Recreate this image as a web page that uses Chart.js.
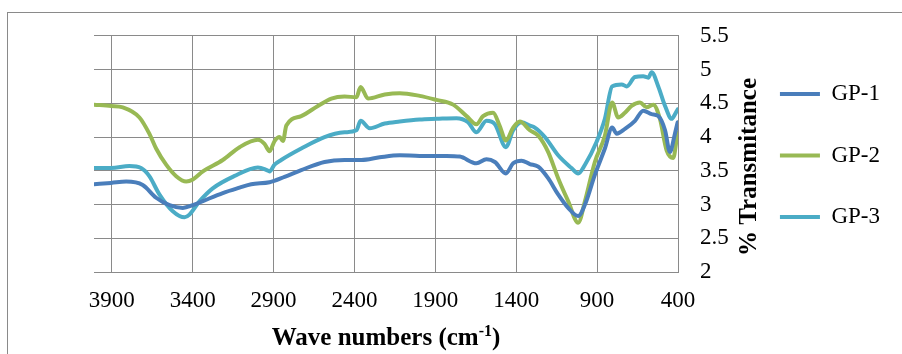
<!DOCTYPE html>
<html>
<head>
<meta charset="utf-8">
<script src="https://cdn.jsdelivr.net/npm/chart.js@4"></script>
<style>
  body { margin: 0; background: #fff; }
  canvas { display: block; }
</style>
</head>
<body>
<canvas id="ftir" width="902" height="354"></canvas>
<script>
// wave numbers (cm-1) and % transmitance
const waveTicks = [400, 900, 1400, 1900, 2400, 2900, 3400, 3900];

const gp1Wave = [4010, 3904, 3811, 3709, 3626, 3543, 3461, 3399, 3337, 3214, 3110, 3038, 2925, 2832, 2729, 2585, 2461, 2357, 2244, 2120, 1997, 1831, 1749, 1646, 1584, 1532, 1464, 1419, 1367, 1316, 1264, 1203, 1141, 1079, 1017, 975, 914, 852, 807, 779, 728, 666, 615, 563, 522, 480, 450, 419, 402];
const gp1Values = [3.30, 3.32, 3.34, 3.29, 3.10, 2.99, 2.95, 2.99, 3.05, 3.17, 3.25, 3.30, 3.33, 3.41, 3.51, 3.63, 3.66, 3.66, 3.70, 3.73, 3.72, 3.72, 3.71, 3.61, 3.67, 3.63, 3.46, 3.61, 3.65, 3.60, 3.56, 3.39, 3.15, 2.95, 2.83, 3.00, 3.44, 3.83, 4.14, 4.05, 4.12, 4.24, 4.39, 4.34, 4.31, 4.10, 3.78, 4.05, 4.22];

const gp2Wave = [4010, 3904, 3832, 3729, 3668, 3626, 3564, 3502, 3440, 3399, 3337, 3214, 3110, 2997, 2956, 2925, 2894, 2863, 2842, 2821, 2729, 2626, 2543, 2461, 2388, 2362, 2316, 2213, 2120, 1997, 1893, 1790, 1707, 1646, 1605, 1543, 1503, 1464, 1419, 1378, 1316, 1264, 1203, 1141, 1079, 1017, 975, 914, 852, 807, 770, 728, 687, 635, 594, 553, 512, 470, 429, 408, 400];
const gp2Values = [4.48, 4.46, 4.44, 4.29, 4.05, 3.83, 3.59, 3.42, 3.34, 3.37, 3.49, 3.66, 3.85, 3.96, 3.90, 3.79, 3.94, 4.00, 3.94, 4.17, 4.31, 4.46, 4.57, 4.60, 4.59, 4.74, 4.57, 4.63, 4.65, 4.61, 4.55, 4.48, 4.31, 4.19, 4.31, 4.36, 4.17, 3.95, 4.14, 4.23, 4.10, 4.02, 3.78, 3.39, 3.05, 2.73, 3.05, 3.63, 4.02, 4.51, 4.29, 4.36, 4.46, 4.51, 4.44, 4.48, 4.27, 3.80, 3.69, 3.97, 4.07];

const gp3Wave = [4010, 3904, 3791, 3719, 3668, 3606, 3523, 3450, 3420, 3357, 3276, 3144, 2997, 2942, 2925, 2894, 2853, 2729, 2585, 2461, 2388, 2362, 2306, 2213, 2120, 1997, 1893, 1770, 1698, 1646, 1584, 1532, 1464, 1419, 1367, 1316, 1285, 1223, 1141, 1058, 1017, 975, 903, 852, 807, 748, 717, 666, 615, 584, 563, 522, 480, 439, 418, 402];
const gp3Values = [3.54, 3.54, 3.57, 3.54, 3.42, 3.15, 2.90, 2.81, 2.85, 3.05, 3.24, 3.42, 3.55, 3.51, 3.49, 3.59, 3.66, 3.83, 4.00, 4.07, 4.10, 4.24, 4.13, 4.20, 4.23, 4.26, 4.27, 4.28, 4.22, 4.07, 4.24, 4.19, 3.85, 4.10, 4.22, 4.17, 4.14, 4.00, 3.73, 3.54, 3.46, 3.59, 3.93, 4.27, 4.75, 4.78, 4.75, 4.89, 4.90, 4.88, 4.96, 4.75, 4.46, 4.27, 4.34, 4.41];

const seriesNames = ['GP-1', 'GP-2', 'GP-3'];
const seriesColors = ['#4a7ebb', '#98b954', '#4bacc6'];

const serif = '"Liberation Serif", "Times New Roman", serif';
const gridColor = '#8a8a8a';

function toPoints(waves, values) {
	return waves.map((w, i) => ({ x: w, y: values[i] }));
}

// outer frame plus the two axis titles (superscript and bottom-up text)
const frameAndTitles = {
	id: 'frameAndTitles',
	beforeDraw(chart) {
		const ctx = chart.ctx;
		ctx.save();
		ctx.fillStyle = '#fff';
		ctx.fillRect(0, 0, chart.width, chart.height);
		ctx.strokeStyle = gridColor;
		ctx.lineWidth = 1;
		ctx.strokeRect(7.5, 12.5, chart.width + 20, chart.height + 20);
		ctx.restore();
	},
	afterDraw(chart) {
		const ctx = chart.ctx;
		const area = chart.chartArea;
		const big = 'bold 25px ' + serif;
		const small = 'bold 16px ' + serif;
		const parts = [['Wave numbers (cm', big, 0], ['-1', small, -9], [')', big, 0]];
		ctx.save();
		ctx.fillStyle = '#000';
		ctx.textBaseline = 'alphabetic';
		let total = 0;
		parts.forEach(p => { ctx.font = p[1]; total += ctx.measureText(p[0]).width; });
		let x = (area.left + area.right) / 2 - total / 2;
		const base = area.bottom + 73;
		parts.forEach(p => {
			ctx.font = p[1];
			ctx.fillText(p[0], x, base + p[2]);
			x += ctx.measureText(p[0]).width;
		});

		ctx.translate(area.right + 72, 167);
		ctx.rotate(-Math.PI / 2);
		ctx.font = big;
		ctx.textAlign = 'center';
		ctx.textBaseline = 'middle';
		ctx.fillText('% Transmitance', 0, 0);
		ctx.restore();
	}
};

const datasets = [
	toPoints(gp1Wave, gp1Values),
	toPoints(gp2Wave, gp2Values),
	toPoints(gp3Wave, gp3Values)
].map((pts, i) => ({
	label: seriesNames[i],
	data: pts,
	borderColor: seriesColors[i],
	backgroundColor: seriesColors[i],
	borderWidth: 4,
	borderCapStyle: 'round',
	pointRadius: 0,
	pointStyle: 'line',
	fill: false,
	cubicInterpolationMode: 'monotone'
}));

new Chart(document.getElementById('ftir'), {
	type: 'line',
	data: { datasets: datasets },
	plugins: [frameAndTitles],
	options: {
		responsive: false,
		animation: false,
		layout: {
			padding: { left: 94, top: 32, right: 12, bottom: 0 }
		},
		scales: {
			x: {
				type: 'linear',
				reverse: true,
				min: 400,
				max: 4010,
				afterBuildTicks: scale => {
					scale.ticks = waveTicks.map(v => ({ value: v }));
				},
				afterFit: scale => { scale.height = 82; },
				grid: { color: gridColor, drawTicks: false },
				border: { color: gridColor },
				ticks: {
					autoSkip: false,
					maxRotation: 0,
					padding: 15,
					color: '#000',
					font: { family: serif, size: 23 },
					callback: value => String(value)
				}
			},
			y: {
				position: 'right',
				min: 2,
				max: 5.5,
				afterFit: scale => {
					const legendWidth = scale.chart.legend ? scale.chart.legend.width : 0;
					scale.width = 902 - 12 - 678 - legendWidth;
				},
				grid: { color: gridColor, drawTicks: false },
				border: { color: gridColor },
				ticks: {
					stepSize: 0.5,
					autoSkip: false,
					padding: 22,
					color: '#000',
					font: { family: serif, size: 23 },
					callback: value => String(value)
				}
			}
		},
		plugins: {
			legend: {
				position: 'right',
				align: 'start',
				title: { display: true, text: '', font: { size: 10 }, padding: 0 },
				labels: {
					usePointStyle: true,
					pointStyleWidth: 40,
					padding: 38.5,
					color: '#000',
					font: { family: serif, size: 23 }
				}
			},
			tooltip: { enabled: false }
		}
	}
});
</script>
</body>
</html>
